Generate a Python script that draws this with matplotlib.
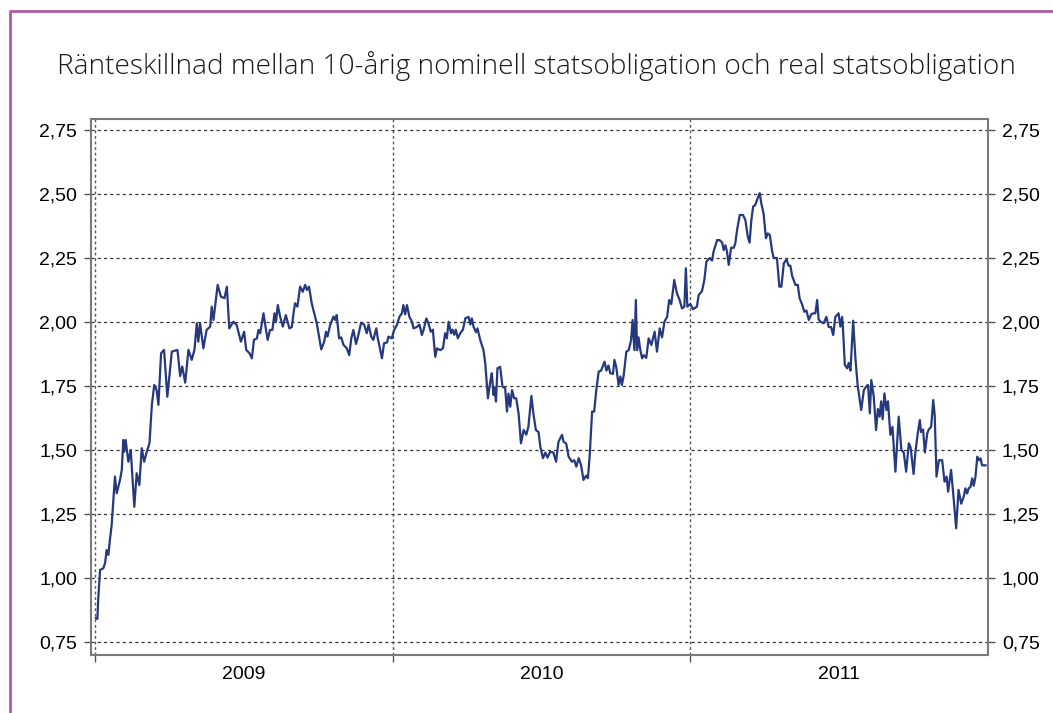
import matplotlib
matplotlib.use("Agg")
import matplotlib.pyplot as plt
import numpy as np
from matplotlib.lines import Line2D
from matplotlib.ticker import FixedLocator, NullFormatter, FuncFormatter

# tid i år efter 2009-01-01
t_off = [0.003, 0.008, 0.011, 0.017, 0.028, 0.034, 0.039, 0.045, 0.050, 0.056,
         0.067, 0.073, 0.084, 0.090, 0.095, 0.098, 0.103, 0.112, 0.120, 0.132,
         0.140, 0.149, 0.157, 0.165, 0.174, 0.183, 0.191, 0.199, 0.207, 0.213,
         0.222, 0.232, 0.243, 0.258, 0.277, 0.286, 0.293, 0.303, 0.314, 0.325,
         0.334, 0.342, 0.347, 0.353, 0.364, 0.375, 0.387, 0.392, 0.398, 0.412,
         0.423, 0.435, 0.443, 0.451, 0.465, 0.476, 0.490, 0.501, 0.508, 0.519,
         0.527, 0.534, 0.544, 0.549, 0.555, 0.566, 0.571, 0.580, 0.588, 0.596,
         0.603, 0.608, 0.614, 0.622, 0.631, 0.641, 0.653, 0.661, 0.667, 0.672,
         0.680, 0.689, 0.698, 0.706, 0.712, 0.719, 0.728, 0.745, 0.760, 0.770,
         0.776, 0.781, 0.790, 0.801, 0.807, 0.812, 0.820, 0.827, 0.835, 0.846,
         0.854, 0.861, 0.868, 0.877, 0.885, 0.894, 0.904, 0.913, 0.919, 0.928,
         0.935, 0.945, 0.950, 0.956, 0.964, 0.971, 0.981, 0.986, 0.997, 1.005,
         1.014, 1.023, 1.031, 1.036, 1.042, 1.048, 1.056, 1.065, 1.070, 1.081,
         1.090, 1.098, 1.104, 1.113, 1.120, 1.128, 1.135, 1.143, 1.149, 1.160,
         1.169, 1.176, 1.182, 1.188, 1.196, 1.201, 1.207, 1.212, 1.219, 1.227,
         1.236, 1.244, 1.255, 1.261, 1.266, 1.272, 1.280, 1.285, 1.294, 1.305,
         1.311, 1.320, 1.328, 1.333, 1.339, 1.342, 1.347, 1.352, 1.361, 1.369,
         1.378, 1.384, 1.389, 1.395, 1.401, 1.408, 1.415, 1.423, 1.431, 1.440,
         1.449, 1.456, 1.466, 1.473, 1.481, 1.490, 1.496, 1.505, 1.513, 1.520,
         1.529, 1.540, 1.549, 1.557, 1.569, 1.574, 1.583, 1.591, 1.602, 1.610,
         1.617, 1.625, 1.633, 1.641, 1.650, 1.656, 1.662, 1.670, 1.677, 1.684,
         1.692, 1.700, 1.705, 1.712, 1.718, 1.725, 1.731, 1.740, 1.745, 1.751,
         1.759, 1.765, 1.770, 1.776, 1.785, 1.793, 1.801, 1.806, 1.812, 1.817,
         1.821, 1.826, 1.832, 1.838, 1.843, 1.852, 1.860, 1.869, 1.880, 1.888,
         1.897, 1.905, 1.913, 1.922, 1.929, 1.936, 1.946, 1.955, 1.964, 1.972,
         1.980, 1.985, 1.990, 2.000, 2.009, 2.022, 2.028, 2.039, 2.047, 2.054,
         2.065, 2.073, 2.078, 2.090, 2.098, 2.107, 2.112, 2.118, 2.123, 2.129,
         2.137, 2.146, 2.151, 2.157, 2.166, 2.177, 2.185, 2.193, 2.199, 2.205,
         2.211, 2.218, 2.226, 2.233, 2.239, 2.246, 2.254, 2.260, 2.267, 2.275,
         2.280, 2.291, 2.299, 2.306, 2.314, 2.323, 2.330, 2.336, 2.342, 2.353,
         2.361, 2.367, 2.375, 2.383, 2.390, 2.398, 2.406, 2.414, 2.420, 2.426,
         2.431, 2.439, 2.448, 2.457, 2.465, 2.473, 2.480, 2.487, 2.498, 2.504,
         2.510, 2.513, 2.519, 2.527, 2.532, 2.538, 2.547, 2.555, 2.562, 2.574,
         2.583, 2.592, 2.597, 2.603, 2.608, 2.616, 2.624, 2.630, 2.636, 2.641,
         2.646, 2.652, 2.659, 2.664, 2.672, 2.679, 2.689, 2.700, 2.709, 2.717,
         2.725, 2.734, 2.740, 2.750, 2.756, 2.764, 2.771, 2.775, 2.782, 2.788,
         2.796, 2.801, 2.809, 2.816, 2.821, 2.827, 2.835, 2.846, 2.854, 2.861,
         2.866, 2.876, 2.885, 2.893, 2.901, 2.910, 2.919, 2.924, 2.930, 2.935,
         2.941, 2.947, 2.952, 2.958, 2.964, 2.969, 2.975, 2.980, 2.992]

# ränteskillnad i procentenheter
spread = [0.843, 0.840, 0.921, 1.031, 1.038, 1.059, 1.109, 1.090, 1.148, 1.207,
          1.396, 1.331, 1.383, 1.422, 1.539, 1.493, 1.539, 1.454, 1.500, 1.278,
          1.409, 1.363, 1.507, 1.454, 1.493, 1.526, 1.676, 1.754, 1.734, 1.676,
          1.878, 1.891, 1.708, 1.884, 1.891, 1.789, 1.826, 1.763, 1.891, 1.852,
          1.891, 1.995, 1.923, 1.995, 1.897, 1.969, 1.982, 2.060, 2.008, 2.145,
          2.099, 2.093, 2.138, 1.975, 2.001, 1.988, 1.923, 1.962, 1.891, 1.878,
          1.858, 1.930, 1.936, 1.969, 1.956, 2.034, 1.995, 1.930, 1.969, 1.969,
          2.034, 2.000, 2.066, 2.021, 1.982, 2.027, 1.975, 1.980, 2.034, 2.073,
          2.060, 2.138, 2.118, 2.145, 2.125, 2.138, 2.073, 1.995, 1.893, 1.923,
          1.962, 1.943, 1.988, 2.021, 2.008, 2.027, 1.936, 1.940, 1.910, 1.897,
          1.871, 1.936, 1.969, 1.914, 1.950, 1.997, 1.990, 1.956, 1.990, 1.943,
          1.930, 1.975, 1.936, 1.904, 1.858, 1.917, 1.920, 1.943, 1.936, 1.969,
          1.988, 2.021, 2.034, 2.066, 2.030, 2.066, 2.021, 2.001, 1.975, 1.980,
          1.990, 1.949, 1.970, 2.014, 1.995, 1.962, 1.970, 1.864, 1.897, 1.890,
          1.897, 1.956, 1.936, 2.001, 1.956, 1.970, 1.950, 1.970, 1.936, 1.956,
          1.970, 2.014, 2.020, 1.990, 2.014, 1.980, 1.960, 1.975, 1.930, 1.891,
          1.839, 1.702, 1.767, 1.800, 1.715, 1.745, 1.689, 1.819, 1.825, 1.747,
          1.741, 1.650, 1.720, 1.669, 1.734, 1.702, 1.702, 1.643, 1.526, 1.578,
          1.560, 1.591, 1.711, 1.640, 1.578, 1.570, 1.513, 1.468, 1.490, 1.470,
          1.493, 1.490, 1.454, 1.532, 1.559, 1.532, 1.525, 1.474, 1.454, 1.460,
          1.435, 1.468, 1.440, 1.383, 1.400, 1.390, 1.480, 1.650, 1.650, 1.734,
          1.806, 1.810, 1.825, 1.845, 1.810, 1.830, 1.800, 1.797, 1.852, 1.825,
          1.754, 1.787, 1.754, 1.790, 1.884, 1.890, 1.930, 2.008, 1.890, 2.086,
          1.890, 1.940, 1.890, 1.858, 1.870, 1.860, 1.936, 1.910, 1.962, 1.884,
          1.975, 1.940, 2.001, 2.020, 2.086, 2.070, 2.164, 2.112, 2.086, 2.053,
          2.060, 2.210, 2.060, 2.070, 2.050, 2.060, 2.105, 2.120, 2.164, 2.236,
          2.250, 2.240, 2.275, 2.320, 2.320, 2.310, 2.281, 2.300, 2.275, 2.223,
          2.290, 2.290, 2.307, 2.359, 2.418, 2.418, 2.398, 2.333, 2.310, 2.398,
          2.451, 2.457, 2.483, 2.503, 2.460, 2.424, 2.327, 2.346, 2.340, 2.275,
          2.250, 2.250, 2.138, 2.138, 2.229, 2.245, 2.220, 2.220, 2.180, 2.145,
          2.145, 2.093, 2.070, 2.040, 2.045, 2.008, 2.030, 2.034, 2.034, 2.086,
          2.010, 2.000, 1.995, 2.020, 1.980, 1.980, 1.949, 2.020, 2.034, 1.982,
          2.020, 1.970, 1.832, 1.819, 1.840, 1.810, 2.005, 1.852, 1.754, 1.656,
          1.734, 1.750, 1.754, 1.643, 1.773, 1.710, 1.578, 1.660, 1.630, 1.690,
          1.620, 1.721, 1.656, 1.690, 1.559, 1.590, 1.415, 1.630, 1.500, 1.490,
          1.415, 1.526, 1.510, 1.406, 1.490, 1.565, 1.617, 1.570, 1.580, 1.490,
          1.565, 1.580, 1.590, 1.695, 1.636, 1.396, 1.460, 1.460, 1.376, 1.396,
          1.337, 1.422, 1.305, 1.194, 1.344, 1.290, 1.320, 1.350, 1.330, 1.350,
          1.355, 1.389, 1.360, 1.396, 1.474, 1.460, 1.467, 1.440, 1.440]

years = [2009, 2010, 2011]
year_labels = ["2009", "2010", "2011"]
y_ticks = [0.75, 1.00, 1.25, 1.50, 1.75, 2.00, 2.25, 2.50, 2.75]

titel = "Ränteskillnad mellan 10-årig nominell statsobligation och real statsobligation"

W, H = 1053, 713
fig = plt.figure(figsize=(W / 100, H / 100), dpi=100)
ax = fig.add_axes([91 / W, 1 - 655 / H, (988 - 91) / W, (655 - 119) / H])

x = 2009 + np.array(t_off)
ax.plot(x, spread, color="#26397f", linewidth=1.6, zorder=3)

ax.set_xlim(2009 - 4 / 297.5, 2012.0)
ax.set_ylim(0.699, 2.793)

# rutnät
for yv in y_ticks:
    ax.axhline(yv, color="#333333", linewidth=0.9, linestyle=(0, (2.5, 2.5)), zorder=1)
for xv in years:
    ax.axvline(xv, color="#555555", linewidth=1.0, linestyle=(0, (2, 2)), zorder=1)

ax.xaxis.set_major_locator(FixedLocator(years))
ax.xaxis.set_major_formatter(NullFormatter())
ax.xaxis.set_minor_locator(FixedLocator([y + 0.5 for y in years]))
ax.xaxis.set_minor_formatter(FuncFormatter(lambda v, p: year_labels[int(v - 2009.5 + 0.01)]))
ax.tick_params(axis="x", which="major", direction="out", length=5, width=1.0, color="#555555")
ax.tick_params(axis="x", which="minor", length=0, pad=8, labelsize=14)

ax.set_yticks(y_ticks)
ax.set_yticklabels([f"{v:.2f}".replace(".", ",") for v in y_ticks])
ax.tick_params(axis="y", direction="out", length=5, width=1.0, color="#555555",
               labelsize=14, pad=5, right=True, labelright=True)

for s in ax.spines.values():
    s.set_color("#7a7a7a")
    s.set_linewidth(1.5)

for lab in ax.get_xticklabels(which="both") + ax.get_yticklabels():
    lab.set_fontfamily("Liberation Sans")

fig.text(536 / W, 1 - 66 / H, titel, ha="center", va="center",
         fontsize=20.2, family="Open Sans", fontweight="light", color="#1a1a1a")

# lila ram uppe och till vänster
lila = "#b15aa8"
fig.add_artist(Line2D([9.5 / W, 9.5 / W, 1.0], [0.0, 1 - 10.5 / H, 1 - 10.5 / H],
                      transform=fig.transFigure, color=lila, linewidth=2.0))

fig.savefig("out.png", dpi=100)
